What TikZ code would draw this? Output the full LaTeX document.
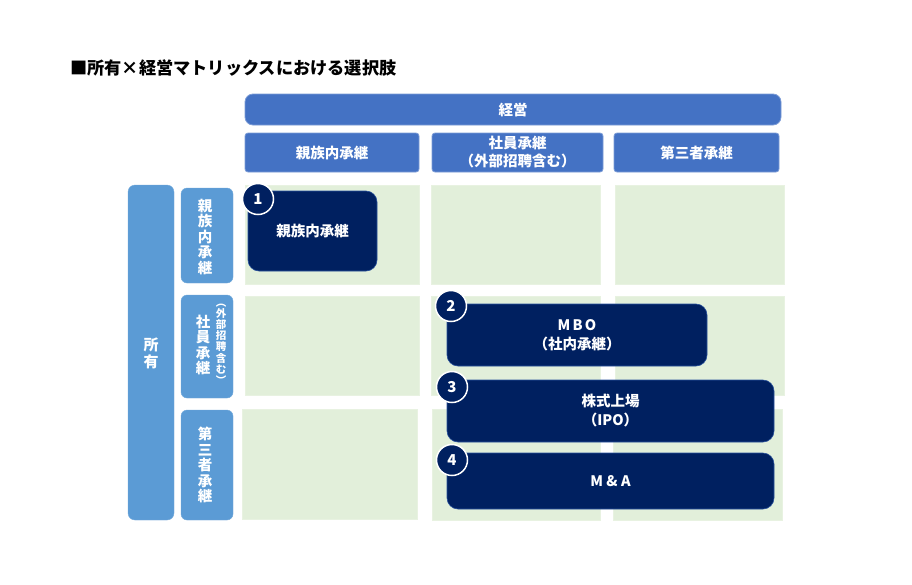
\documentclass[tikz,border=0pt]{standalone}
\usepackage{fontspec}
\setmainfont{Noto Sans CJK JP}
\definecolor{navy}{HTML}{002060}
\definecolor{hblue}{HTML}{4472C4}
\definecolor{lblue}{HTML}{5B9BD5}
\definecolor{cgreen}{HTML}{E2EFDA}
\newcommand\rbox[7]{\node[#1,minimum width={(#5-#3)*1pt},minimum height={(#6-#4)*1pt}] (#2) at ({(#3+#5)/2},{(#4+#6)/2}) {#7};}
\tikzset{
  base/.style={inner sep=0pt,outer sep=0pt,rectangle,align=center},
  cell/.style={base,fill=cgreen,draw=cgreen!80!white},
  topbar/.style={base,fill=hblue,draw=hblue!70!white,line width=0.8pt,rounded corners=8pt,text=white,font=\bfseries\fontsize{14.5}{17}\selectfont},
  colhead/.style={base,fill=hblue,draw=hblue!70!white,line width=0.8pt,rounded corners=3pt,text=white,font=\bfseries\fontsize{14.5}{18}\selectfont},
  sidebar/.style={base,fill=lblue,draw=lblue!85!white,rounded corners=7pt},
  rowhead/.style={base,fill=lblue,draw=lblue!85!white,rounded corners=6pt},
  vtext/.style={inner sep=0pt,align=center,text=white,font=\bfseries\fontsize{14.5}{15.5}\selectfont},
  vsmall/.style={inner sep=0pt,align=center,text=white,font=\bfseries\fontsize{10.5}{11.2}\selectfont},
  choice/.style={base,fill=navy,draw=hblue!60!navy,line width=0.6pt,rounded corners=11pt,text=white,font=\bfseries\fontsize{14.5}{19}\selectfont},
  num/.style={circle,fill=navy,draw=white,line width=1.5pt,minimum size=31pt,inner sep=0pt,text=white,font=\bfseries\fontsize{15}{15}\selectfont},
}
\begin{document}
\begin{tikzpicture}[x=1pt,y=-1pt]
\useasboundingbox[fill=white] (0,0) rectangle (912,584);
% title
\node[anchor=west,inner sep=0pt,font=\bfseries\fontsize{17.2}{19}\selectfont] (title) at (70,68) {■所有×経営マトリックスにおける選択肢};
% green cells
\rbox{cell}{g11}{245}{185}{419}{284}{}
\rbox{cell}{g12}{431}{185}{600}{284}{}
\rbox{cell}{g13}{615}{185}{784}{284}{}
\rbox{cell}{g21}{245}{296}{419}{395}{}
\rbox{cell}{g22}{431}{296}{600}{395}{}
\rbox{cell}{g23}{615}{296}{784}{395}{}
\rbox{cell}{g31}{242}{409}{417}{519}{}
\rbox{cell}{g32}{432}{409}{600}{520}{}
\rbox{cell}{g33}{613}{409}{782}{520}{}
% headers
\rbox{topbar}{keiei}{245}{94}{781}{125}{経営}
\rbox{colhead}{h1}{245}{133}{419}{172}{親族内承継}
\rbox{colhead}{h2}{432}{133}{603}{172}{社員承継\\（外部招聘含む）}
\rbox{colhead}{h3}{614}{133}{779}{172}{第三者承継}
% left side
\rbox{sidebar}{shoyu}{128}{185}{174}{520}{}
\node[vtext,font=\bfseries\fontsize{15}{17}\selectfont] (shoyut) at (151,353) {所\\有};
\rbox{rowhead}{r1}{181}{188}{233}{283}{}
\rbox{rowhead}{r2}{181}{295}{233}{398}{}
\rbox{rowhead}{r3}{181}{410}{233}{520}{}
\node[vtext] (r1t) at (205,237) {親\\族\\内\\承\\継};
\node[vtext] (r2t) at (203,345) {社\\員\\承\\継};
\node[vsmall] (r2s) at (221,344) {︵\\外\\部\\招\\聘\\含\\む\\︶};
\node[vtext] (r3t) at (205,465) {第\\三\\者\\承\\継};
% choices
\rbox{choice}{b1}{248}{191}{377}{271}{親族内承継}
\rbox{choice}{b2}{447}{304}{707}{366}{{\addfontfeatures{LetterSpace=15}MBO}\\（社内承継）}
\rbox{choice}{b3}{447}{380}{774}{442}{株式上場\\（IPO）}
\rbox{choice}{b4}{447}{453}{774}{509}{M \& A}
\node[num] (c1) at (258,199) {1};
\node[num] (c2) at (451,306) {2};
\node[num] (c3) at (452,387) {3};
\node[num] (c4) at (452,460) {4};
\end{tikzpicture}
\end{document}
